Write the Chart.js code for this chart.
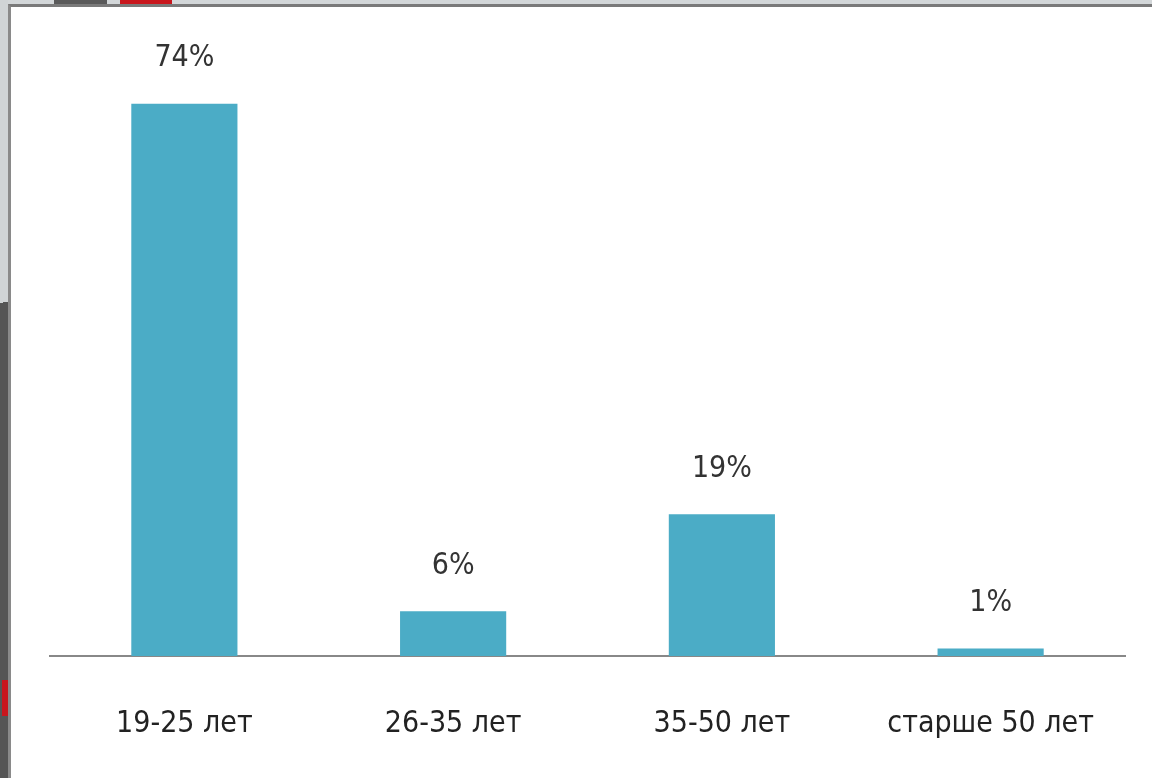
<!DOCTYPE html>
<html lang="ru">
<head>
<meta charset="UTF-8">
<title>Возраст</title>
<style>
    html, body { margin: 0; padding: 0; }
    body { width: 1152px; height: 778px; position: relative; overflow: hidden; background: #d3d7d9; }
    .left-dark { position: absolute; left: 0; top: 0; width: 8px; height: 778px;
        background: linear-gradient(172deg, #d0d4d6 0, #d0d4d6 300px, #555 300px, #555 100%); }
    .left-red { position: absolute; left: 2px; top: 680px; width: 6px; height: 36px; background: #c8161d; }
    .tab-dark { position: absolute; left: 54px; top: 0; width: 53px; height: 5px; background: #5a5a5a; }
    .tab-red { position: absolute; left: 120px; top: 0; width: 52px; height: 5px; background: #c8161d; }
    .panel { position: absolute; left: 8px; top: 4px; right: 0; bottom: 0;
        background: #fff; border-left: 3px solid #8a8a8a; border-top: 3px solid #7a7a7a; }
    .panel canvas { display: block; }
</style>
</head>
<body>
    <div class="left-dark"></div>
    <div class="left-red"></div>
    <div class="tab-dark"></div>
    <div class="tab-red"></div>
    <div class="panel">
        <canvas id="chart" width="1141" height="771"></canvas>
    </div>
<script src="https://cdn.jsdelivr.net/npm/chart.js"></script>
<script>
// данные
var categories = ['19-25 лет', '26-35 лет', '35-50 лет', 'старше 50 лет'];
var shares = [74, 6, 19, 1];
var valueLabels = ['74%', '6%', '19%', '1%'];

var fontFamily = "'DejaVu Sans Condensed', 'Liberation Sans Narrow', sans-serif";

// подписи над столбиками
var barLabels = {
    id: 'barLabels',
    afterDatasetsDraw: function (chart) {
        var ctx = chart.ctx;
        var meta = chart.getDatasetMeta(0);
        ctx.save();
        ctx.font = '30px ' + fontFamily;
        ctx.fillStyle = '#333';
        ctx.textAlign = 'center';
        ctx.textBaseline = 'middle';
        meta.data.forEach(function (bar, i) {
            ctx.fillText(valueLabels[i], bar.x, bar.y - 45);
        });
        ctx.restore();
    }
};

new Chart(document.getElementById('chart').getContext('2d'), {
    type: 'bar',
    data: {
        labels: categories,
        datasets: [{
            data: shares,
            backgroundColor: '#4BACC6',
            borderWidth: 0,
            barPercentage: 0.395,
            categoryPercentage: 1
        }]
    },
    options: {
        responsive: false,
        animation: false,
        layout: { padding: { top: 22, left: 39, right: 27, bottom: 38 } },
        plugins: { legend: { display: false }, tooltip: { enabled: false } },
        scales: {
            x: {
                grid: { display: false },
                border: { display: true, color: '#888', width: 2 },
                ticks: { color: '#222', padding: 42, maxRotation: 0, minRotation: 0,
                    font: { size: 30, family: fontFamily } },
                afterFit: function (scale) { scale.height = 84; }
            },
            y: {
                display: false,
                min: 0,
                max: 84
            }
        }
    },
    plugins: [barLabels]
});
</script>
</body>
</html>
